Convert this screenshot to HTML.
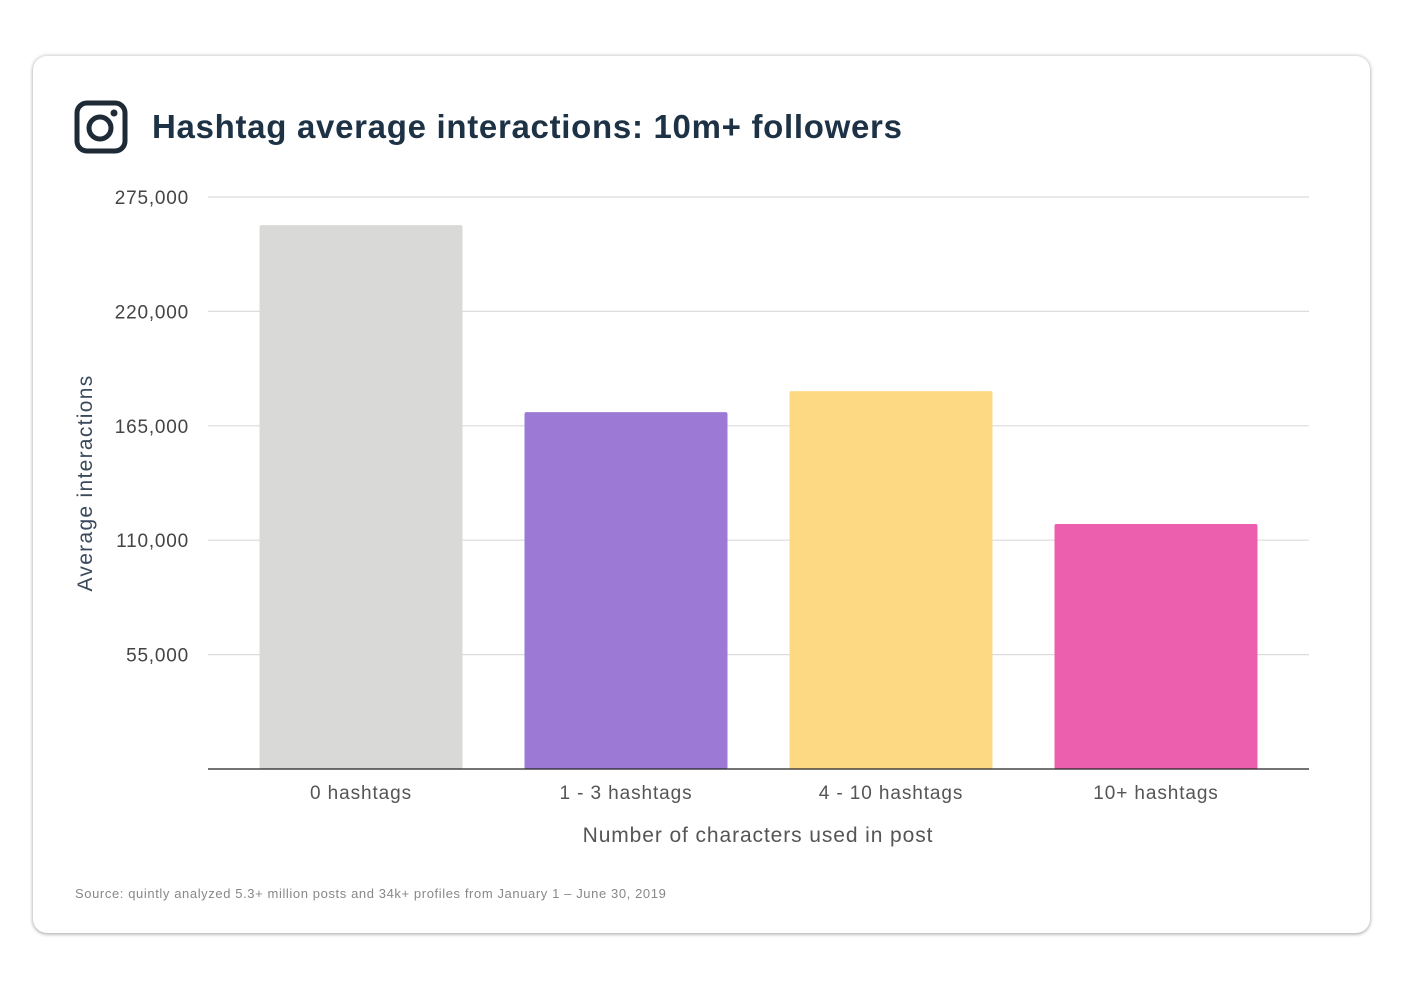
<!DOCTYPE html>
<html><head><meta charset="utf-8"><style>
body{margin:0;width:1403px;height:992px;background:#fff;font-family:"Liberation Sans",sans-serif;position:relative;overflow:hidden}
.card{position:absolute;left:33px;top:56px;width:1337px;height:877px;border-radius:14px;background:#fff;box-shadow:0 0 3px 1px rgba(0,0,0,0.18),0 2px 3px rgba(0,0,0,0.15)}
.title{position:absolute;left:152px;top:108px;font-size:33px;font-weight:bold;color:#1e3246;white-space:nowrap;letter-spacing:0.7px}
.src{position:absolute;left:75px;top:886px;font-size:13px;color:#888;white-space:nowrap;letter-spacing:0.6px}
svg{position:absolute;left:0;top:0}
</style></head><body>
<div class="card"></div>
<svg width="60" height="60" style="left:72px;top:98px">
<rect x="5" y="5" width="48" height="48" rx="10" fill="none" stroke="#1e2a36" stroke-width="5"/>
<circle cx="28" cy="30" r="11" fill="none" stroke="#1e2a36" stroke-width="5"/>
<circle cx="42" cy="15" r="3.5" fill="#1e2a36"/>
</svg>
<div class="title">Hashtag average interactions: 10m+ followers</div>
<div class="src">Source: quintly analyzed 5.3+ million posts and 34k+ profiles from January 1 – June 30, 2019</div>
<svg id="chart" width="1403" height="992"></svg>
<script>
const categories=["0 hashtags","1 - 3 hashtags","4 - 10 hashtags","10+ hashtags"];
const values=[261500,171600,181700,117800];
const colors=["#d9d9d7","#9b79d4","#fdd984","#ec5fae"];
const ticks=[55000,110000,165000,220000,275000];
const tickLabels=["55,000","110,000","165,000","220,000","275,000"];
const NS="http://www.w3.org/2000/svg";
const svg=document.getElementById("chart");
const x0=208,x1=1309,y0=769,yTop=197,yMax=275000;
const bandStart=228.5,band=265,barW=203;
function y(v){return y0-(v/yMax)*(y0-yTop);}
function xc(i){return bandStart+band*(i+0.5);}
function mk(t,a){const e=document.createElementNS(NS,t);for(const k in a)e.setAttribute(k,a[k]);svg.appendChild(e);return e;}
ticks.forEach((t,i)=>{
 const l=mk("line",{x1:x0,x2:x1,y1:y(t),y2:y(t),stroke:"#dcdcdc","stroke-width":1.2});
 
 
 const tx=mk("text",{x:189,y:y(t)+7,"text-anchor":"end","font-size":19,fill:"#444","letter-spacing":"0.8","font-family":"Liberation Sans, sans-serif"});
 tx.textContent=tickLabels[i];
 
 
});
values.forEach((v,i)=>{
 const r=mk("rect",{x:xc(i)-barW/2,y:y(v),width:barW,height:y0-y(v),fill:colors[i],rx:2});
 
 
 const t=mk("text",{x:xc(i),y:799,"text-anchor":"middle","font-size":19,fill:"#555","letter-spacing":"0.9","font-family":"Liberation Sans, sans-serif"});
 t.textContent=categories[i];
 
 
});
const ax=mk("line",{x1:x0,x2:x1,y1:y0,y2:y0,stroke:"#222","stroke-width":1.3});


const xt=mk("text",{x:758,y:842,"text-anchor":"middle","font-size":21,fill:"#555","letter-spacing":"0.9","font-family":"Liberation Sans, sans-serif"});
xt.textContent="Number of characters used in post";


const yt=mk("text",{x:0,y:0,"text-anchor":"middle","font-size":21,fill:"#3a4a5c","letter-spacing":"1.3","font-family":"Liberation Sans, sans-serif",transform:"translate(92,483) rotate(-90)"});
yt.textContent="Average interactions";


</script>
</body></html>
